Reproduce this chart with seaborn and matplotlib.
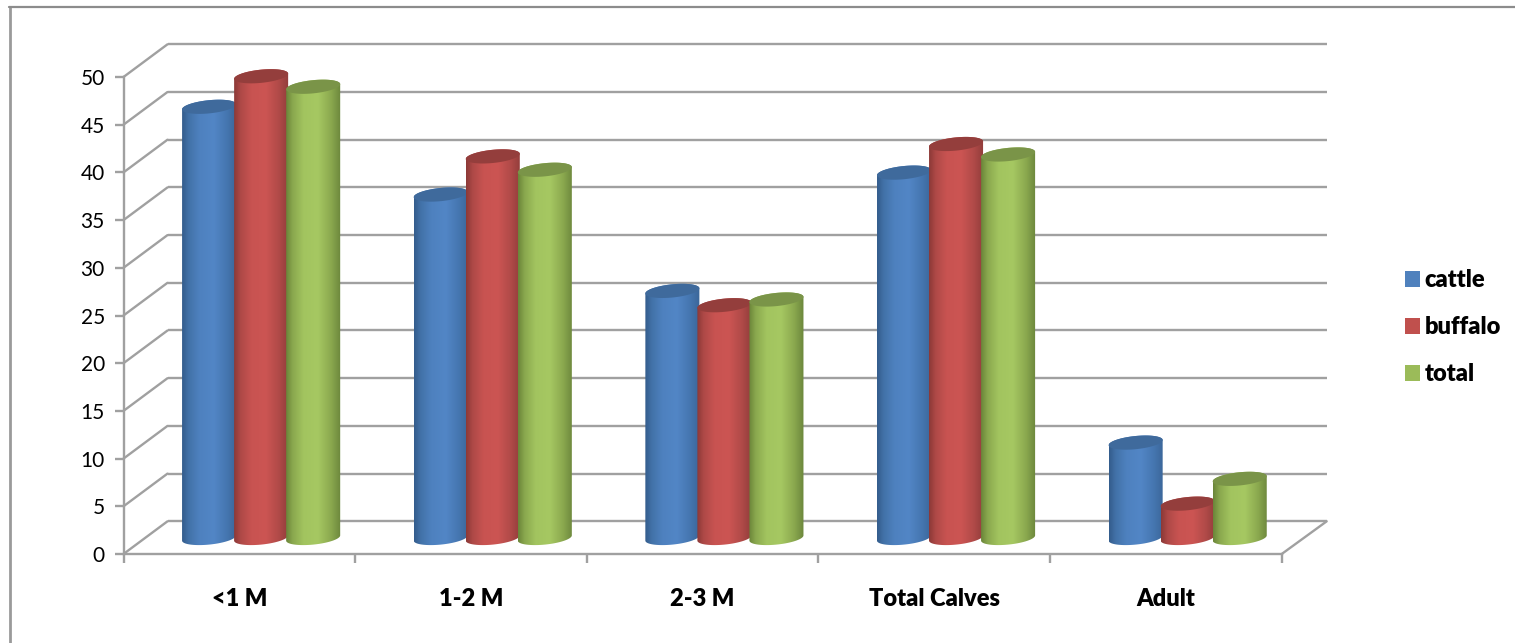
import numpy as np
import pandas as pd
import seaborn as sns
import matplotlib
matplotlib.use("Agg")
import matplotlib.pyplot as plt
from matplotlib.colors import to_rgb
from matplotlib.lines import Line2D
from matplotlib.patches import Patch, Polygon
from matplotlib.path import Path
from matplotlib.transforms import IdentityTransform

# Survey values per age class
age_classes = ["<1 M", "1-2 M", "2-3 M", "Total Calves", "Adult"]
cattle = [45.2, 36.0, 25.9, 38.3, 10.0]
buffalo = [48.4, 40.0, 24.4, 41.3, 3.6]
total = [47.3, 38.6, 25.0, 40.2, 6.2]
series_names = ["cattle", "buffalo", "total"]
flat_colors = ["#4f81bd", "#c0504d", "#9bbb59"]
top_colors = ["#3f6a9c", "#943e3c", "#7a9448"]
shade_stops = {
    "cattle": ["#345c8c", "#4272a8", "#4e81bf", "#5286c6", "#4576b0", "#3b6699"],
    "buffalo": ["#8c3937", "#ae4947", "#c85351", "#cc5553", "#b04a48", "#913d3b"],
    "total": ["#6b853a", "#8aa84e", "#a2c45f", "#a6c862", "#8ba94f", "#6c873c"],
}
y_ticks = list(range(0, 55, 5))

W, H = 1515, 643
GRID = "#a0a0a0"
sns.set_theme(style="white")
plt.rcParams["font.family"] = ["Lato", "DejaVu Sans"]

fig = plt.figure(figsize=(W / 100, H / 100), dpi=100, facecolor="white")

# Pixel geometry of the three depth planes of the box
X0, X1 = 123.5, 1281.7
Y_ZERO, Y_FIFTY = 554.0, 77.0
DX_WALL, DY_WALL = 44.0, 32.7
DX_BAR, DY_BAR = 21.8, 16.0
PX_PER_UNIT = (Y_ZERO - Y_FIFTY) / 50
PAD = 3  # extra data units kept below and above the bars for the round caps


def axes_rect(dx, dy, pad=0, extra_width=0):
    left = (X0 + dx) / W
    bottom = 1 - (Y_ZERO - dy + pad * PX_PER_UNIT) / H
    height = (Y_ZERO - Y_FIFTY + 2 * pad * PX_PER_UNIT) / H
    return [left, bottom, (X1 - X0 + extra_width) / W, height]


# Back wall with its horizontal grid
wall = fig.add_axes(axes_rect(DX_WALL, DY_WALL, extra_width=1.0), zorder=0)
wall.set_xlim(0, 5)
wall.set_ylim(0, 50)
wall.axis("off")
wall.hlines(y_ticks, 0, 5, color=GRID, lw=1.7, clip_on=False)

# Front plane with the axes and their labels
front = fig.add_axes(axes_rect(0, 0), zorder=1)
front.patch.set_alpha(0)
front.set_xlim(0, 5)
front.set_ylim(0, 50)
sns.despine(ax=front)
for side in ("left", "bottom"):
    front.spines[side].set_color(GRID)
    front.spines[side].set_linewidth(1.7)
front.set_yticks(y_ticks)
front.tick_params(axis="y", length=6.5, width=1.7, color=GRID, pad=7, labelsize=15, labelcolor="black", left=True)
front.set_xticks(range(6))
front.set_xticklabels([])
front.tick_params(axis="x", which="major", length=6.5, width=1.7, color=GRID, bottom=True)
front.set_xticks(np.arange(5) + 0.5, minor=True)
front.set_xticklabels(age_classes, minor=True, fontsize=17, fontweight="heavy", color="black")
front.tick_params(axis="x", which="minor", length=0, pad=24.7)

# Receding edges joining the front plane to the wall
fig.canvas.draw()
to_px = IdentityTransform()
edges = [((0, v), (0, v)) for v in y_ticks] + [((5, 0), (5, 0))]
for a, b in edges:
    p = front.transData.transform(a)
    q = wall.transData.transform(b)
    fig.add_artist(Line2D([p[0], q[0]], [p[1], q[1]], transform=to_px, color=GRID, lw=1.7, zorder=0.5))

# Bars stand on the mid-depth plane
bars = fig.add_axes(axes_rect(DX_BAR, DY_BAR, PAD), zorder=2)
bars.patch.set_alpha(0)
table = pd.DataFrame({
    "age": np.tile(age_classes, 3),
    "value": cattle + buffalo + total,
    "species": np.repeat(series_names, 5),
})
sns.barplot(data=table, x="age", y="value", hue="species", order=age_classes, hue_order=series_names,
            palette=flat_colors, saturation=1, width=0.674, gap=0, legend=False, ax=bars)
bars.set_xlim(-0.5, 4.5)
bars.set_ylim(-PAD, 50 + PAD)
bars.axis("off")

px_x = 5 / (X1 - X0)
px_y = 1 / PX_PER_UNIT
SEMI_MINOR = 6.6 * px_y
SHEAR = 2.6 * px_y
EXTRA = 1.0 * px_x


def rim(cx, cy, a, t):
    """Points on a slightly tilted ellipse around (cx, cy)."""
    c, s = np.cos(t), np.sin(t)
    return np.column_stack([cx + a * c, cy + SEMI_MINOR * s + SHEAR * c])


drawn = [p for p in bars.patches if p.get_height() > 0]
for i, patch in enumerate(drawn):
    k = i // len(age_classes)
    name = series_names[k]
    patch.set_visible(False)
    cx = patch.get_x() + patch.get_width() / 2
    a = patch.get_width() / 2 + EXTRA
    top = patch.get_height()
    z = 3 + i * 0.01 + k

    # Side of the cylinder: a horizontal shade clipped to the outline
    lower = rim(cx, 0, a, np.linspace(np.pi, 2 * np.pi, 60))
    upper = rim(cx, top, a, np.linspace(0, np.pi, 60))
    outline = np.vstack([lower, upper])
    rgb = np.array([to_rgb(c) for c in shade_stops[name]])
    u = np.linspace(0, 1, 108)
    stops = [0, 0.12, 0.32, 0.58, 0.82, 1]
    shade = np.stack([np.interp(u, stops, rgb[:, j]) for j in range(3)], axis=-1)[None, :, :]
    im = bars.imshow(shade, extent=[cx - a, cx + a, -PAD, top + PAD], aspect="auto",
                     interpolation="bilinear", zorder=z)
    im.set_clip_path(Path(outline, closed=True), transform=bars.transData)

    # Cap of the cylinder
    cap = rim(cx, top, a, np.linspace(0, 2 * np.pi, 120))
    bars.add_patch(Polygon(cap, closed=True, facecolor=top_colors[k], edgecolor="none", zorder=z + 0.001))
bars.set_xlim(-0.5, 4.5)
bars.set_ylim(-PAD, 50 + PAD)

# Legend on the right
handles = [Patch(facecolor=c, edgecolor="none") for c in flat_colors]
fig.legend(handles, series_names, loc="upper left", bbox_to_anchor=(1383.5 / W, 1 - 248 / H),
           frameon=False, prop={"family": "Lato", "weight": "heavy", "size": 17},
           handlelength=0.65, handleheight=0.65, handletextpad=0.2, labelspacing=1.06,
           borderpad=0.4, labelcolor="black")

# Outer chart border, top and left only
fig.add_artist(Line2D([9.5, 9.5], [0, H - 7], transform=to_px, color="#9a9a9a", lw=2.0, zorder=5))
fig.add_artist(Line2D([8.5, W], [H - 7, H - 7], transform=to_px, color="#8c8c8c", lw=1.6, zorder=5))

fig.savefig("out.png", dpi=100, facecolor="white")
